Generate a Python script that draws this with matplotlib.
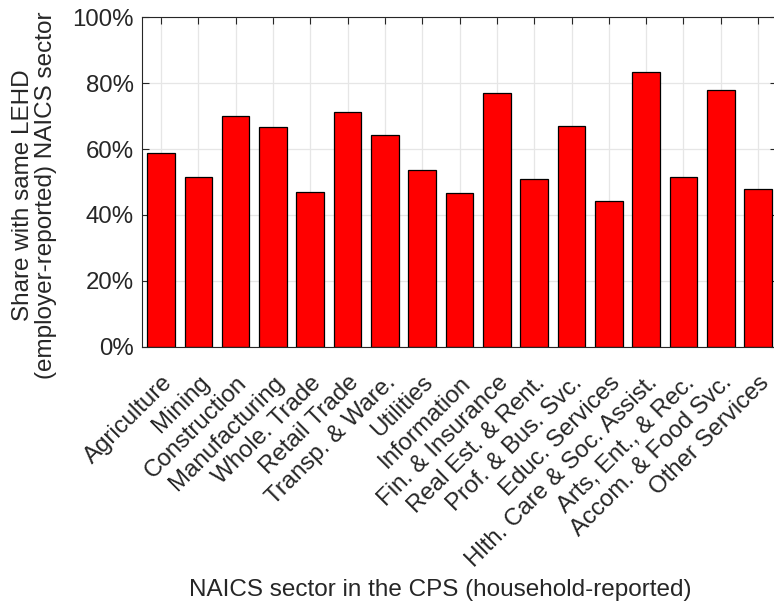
import numpy as np
import matplotlib
matplotlib.use("Agg")
import matplotlib.pyplot as plt
from matplotlib.ticker import PercentFormatter

plt.rcParams['font.family'] = ['Liberation Sans', 'DejaVu Sans']

sectors = ["Agriculture", "Mining", "Construction", "Manufacturing",
           "Whole. Trade", "Retail Trade", "Transp. & Ware.", "Utilities",
           "Information", "Fin. & Insurance", "Real Est. & Rent.",
           "Prof. & Bus. Svc.", "Educ. Services", "Hlth. Care & Soc. Assist.",
           "Arts, Ent., & Rec.", "Accom. & Food Svc.", "Other Services"]
share_same = [58.7, 51.4, 70.1, 66.7, 46.9, 71.2, 64.4, 53.6, 46.6,
              77.0, 50.8, 67.0, 44.2, 83.4, 51.4, 77.9, 48.0]
yticks = [0, 20, 40, 60, 80, 100]

txt = '#262626'
fig = plt.figure(figsize=(7.74, 6.08), dpi=100)
ax = fig.add_axes([0.1839, 0.4298, 0.8197, 0.5418])

x = np.arange(1, len(sectors) + 1)
ax.bar(x, share_same, width=0.74, color='#ff0000', edgecolor='black',
       linewidth=0.9, zorder=3)

ax.set_xlim(0.5, len(sectors) + 0.5)
ax.set_ylim(0, 100)
ax.set_yticks(yticks)
ax.yaxis.set_major_formatter(PercentFormatter(decimals=0))
ax.set_xticks(x)
ax.set_xticklabels(sectors, rotation=45, ha='right', va='top',
                   rotation_mode='anchor')

ax.grid(True, color='#e6e6e6', linewidth=0.9, zorder=0)
ax.set_axisbelow(True)
ax.tick_params(direction='in', length=5, width=0.8, color='#262626',
               top=True, right=True, labelsize=17.3, labelcolor=txt)
ax.tick_params(axis='y', pad=6)
ax.tick_params(axis='x', pad=18)
for s in ax.spines.values():
    s.set_color('#262626')
    s.set_linewidth(0.8)
    s.set_zorder(4)

# axis titles placed in figure pixels
fig.text(34.5 / 774, 1 - 195 / 608,
         "Share with same LEHD\n(employer-reported) NAICS sector",
         rotation=90, ha='center', va='center', fontsize=17.5, color=txt,
         linespacing=1.1)
fig.text(0.5685, 0.03, "NAICS sector in the CPS (household-reported)",
         ha='center', va='center', fontsize=17.5, color=txt)

fig.savefig("out.png", dpi=100)
